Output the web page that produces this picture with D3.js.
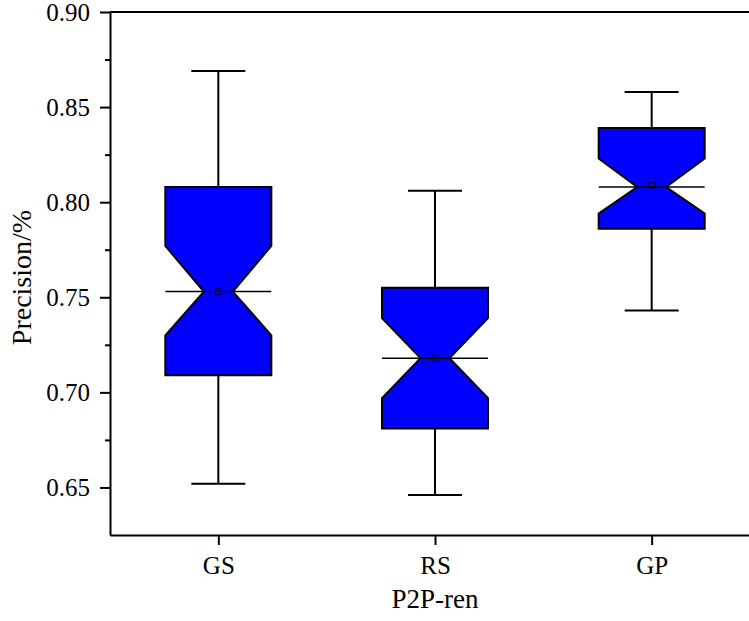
<!DOCTYPE html>
<html>
<head>
<meta charset="utf-8">
<script src="https://cdn.jsdelivr.net/npm/d3@7"></script>
<style>
  body { margin: 0; background: #fff; }
  svg { display: block; }
</style>
</head>
<body>
<div id="chart"></div>
<script>
// box plot values
const categories = ["GS", "RS", "GP"];
const whiskerHigh = [0.869, 0.806, 0.858];
const q3 = [0.808, 0.755, 0.839];
const notchHigh = [0.777, 0.739, 0.823];
const median = [0.753, 0.718, 0.808];
const notchLow = [0.730, 0.697, 0.794];
const q1 = [0.709, 0.681, 0.786];
const whiskerLow = [0.652, 0.646, 0.743];
const mean = [0.753, 0.718, 0.809];
const yTicks = [0.65, 0.70, 0.75, 0.80, 0.85, 0.90];
const yMinorTicks = [0.675, 0.725, 0.775, 0.825, 0.875];

const width = 749, height = 621;
const margin = {top: 12, left: 110, bottom: 86, right: -11};

const svg = d3.select("#chart")
  .append("svg")
  .attr("width", width)
  .attr("height", height);

const x = d3.scalePoint()
  .domain(categories)
  .range([margin.left, width - margin.right])
  .padding(0.5);

const y = d3.scaleLinear()
  .domain([0.625, 0.90])
  .range([height - margin.bottom, margin.top]);

const font = "'Liberation Serif', 'Times New Roman', serif";

// top frame line
svg.append("line")
  .attr("x1", margin.left).attr("x2", width - margin.right)
  .attr("y1", y(0.90)).attr("y2", y(0.90))
  .attr("stroke", "#000").attr("stroke-width", 2);

// minor y ticks
svg.append("g")
  .attr("transform", `translate(${margin.left},0)`)
  .call(d3.axisLeft(y).tickValues(yMinorTicks).tickSize(5).tickFormat(""))
  .call(g => g.select(".domain").remove())
  .call(g => g.selectAll("line").attr("stroke-width", 2));

// y axis
svg.append("g")
  .attr("transform", `translate(${margin.left},0)`)
  .call(d3.axisLeft(y).tickValues(yTicks).tickSize(10).tickSizeOuter(0).tickPadding(10).tickFormat(d3.format(".2f")))
  .call(g => g.select(".domain").attr("stroke-width", 2))
  .call(g => g.selectAll("line").attr("stroke-width", 2))
  .call(g => g.selectAll("text").attr("font-family", font).attr("font-size", 25).attr("fill", "#000"));

// x axis
svg.append("g")
  .attr("transform", `translate(0,${height - margin.bottom})`)
  .call(d3.axisBottom(x).tickSize(10).tickSizeOuter(0).tickPadding(11))
  .call(g => g.select(".domain").attr("stroke-width", 2))
  .call(g => g.selectAll("line").attr("stroke-width", 2))
  .call(g => g.selectAll("text").attr("font-family", font).attr("font-size", 25).attr("fill", "#000"));

// axis titles
svg.append("text")
  .attr("x", x("RS"))
  .attr("y", 608)
  .attr("text-anchor", "middle")
  .attr("font-family", font)
  .attr("font-size", 27)
  .text("P2P-ren");

svg.append("text")
  .attr("transform", `translate(31,${(y(0.90) + y(0.625)) / 2 + 4}) rotate(-90)`)
  .attr("text-anchor", "middle")
  .attr("font-family", font)
  .attr("font-size", 28)
  .text("Precision/%");

const boxHalf = 53, capHalf = 27, notchHalf = 14.5;
const boxes = categories.map((c, i) => ({c, i}));

const g = svg.append("g");

// whiskers
boxes.forEach(({c, i}) => {
  const cx = x(c);
  [[whiskerHigh[i], q3[i]], [whiskerLow[i], q1[i]]].forEach(([w, q]) => {
    g.append("line")
      .attr("x1", cx).attr("x2", cx)
      .attr("y1", y(w)).attr("y2", y(q))
      .attr("stroke", "#000").attr("stroke-width", 2);
    g.append("line")
      .attr("x1", cx - capHalf).attr("x2", cx + capHalf)
      .attr("y1", y(w)).attr("y2", y(w))
      .attr("stroke", "#000").attr("stroke-width", 2);
  });
});

// notched boxes
g.selectAll("path.box")
  .data(boxes)
  .join("path")
  .attr("class", "box")
  .attr("fill", "#0000ff")
  .attr("stroke", "#000")
  .attr("stroke-width", 2)
  .attr("stroke-linejoin", "miter")
  .attr("d", ({c, i}) => {
    const cx = x(c), L = cx - boxHalf, R = cx + boxHalf;
    const pts = [
      [L, y(q3[i])], [R, y(q3[i])], [R, y(notchHigh[i])],
      [cx + notchHalf, y(median[i])],
      [R, y(notchLow[i])], [R, y(q1[i])], [L, y(q1[i])], [L, y(notchLow[i])],
      [cx - notchHalf, y(median[i])],
      [L, y(notchHigh[i])]
    ];
    return d3.line()(pts) + "Z";
  });

// median lines
g.selectAll("line.median")
  .data(boxes)
  .join("line")
  .attr("class", "median")
  .attr("x1", d => x(d.c) - boxHalf).attr("x2", d => x(d.c) + boxHalf)
  .attr("y1", d => y(median[d.i])).attr("y2", d => y(median[d.i]))
  .attr("stroke", "#000").attr("stroke-width", 1.5);

// mean markers
g.selectAll("rect.mean")
  .data(boxes)
  .join("rect")
  .attr("class", "mean")
  .attr("x", d => x(d.c) - 3).attr("y", d => y(mean[d.i]) - 3)
  .attr("width", 6).attr("height", 6)
  .attr("fill", "none").attr("stroke", "#000").attr("stroke-width", 0.8);
</script>
</body>
</html>
